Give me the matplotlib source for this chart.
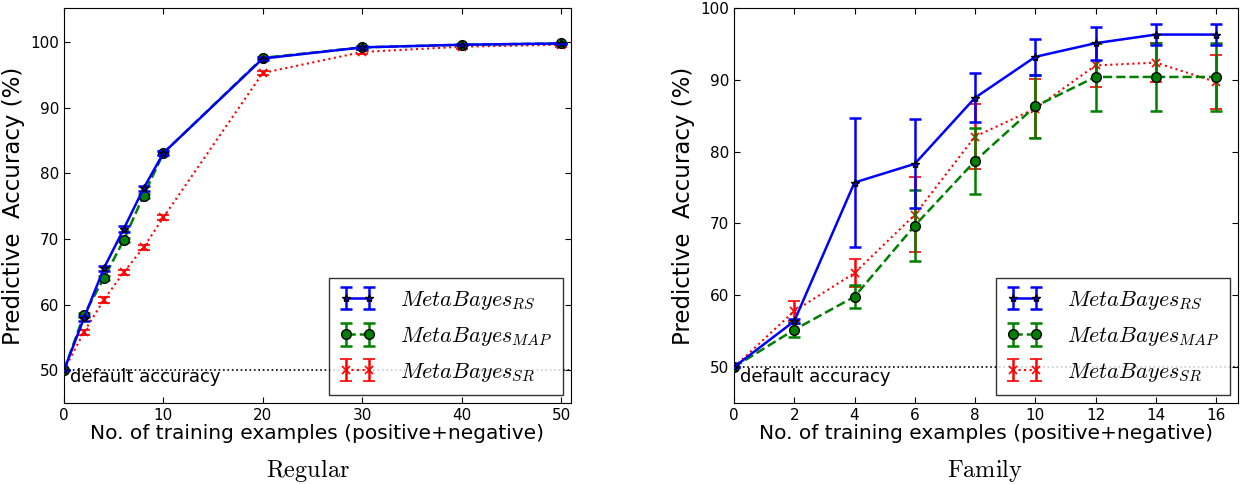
import matplotlib
matplotlib.use("Agg")
import matplotlib.pyplot as plt
import numpy as np

plt.rcParams['mathtext.fontset'] = 'cm'
plt.rcParams['font.family'] = ['DejaVu Sans']

# Regular panel
reg_x = [0, 2, 4, 6, 8, 10, 20, 30, 40, 50]
reg_rs = [50.0, 57.9, 65.5, 71.5, 77.7, 83.1, 97.5, 99.2, 99.6, 99.8]
reg_rs_err = [0.0, 0.4, 0.4, 0.4, 0.4, 0.3, 0.2, 0.2, 0.1, 0.1]
reg_map = [50.0, 58.4, 64.0, 69.8, 76.6, 83.1, 97.6, 99.2, 99.6, 99.8]
reg_map_err = [0.0, 0.3, 0.3, 0.3, 0.3, 0.3, 0.2, 0.2, 0.1, 0.1]
reg_sr = [50.0, 55.8, 60.7, 64.9, 68.7, 73.3, 95.3, 98.5, 99.3, 99.6]
reg_sr_err = [0.0, 0.4, 0.4, 0.4, 0.4, 0.4, 0.3, 0.3, 0.3, 0.3]

# Family panel
fam_x = [0, 2, 4, 6, 8, 10, 12, 14, 16]
fam_rs = [50.0, 56.4, 75.7, 78.3, 87.5, 93.2, 95.1, 96.3, 96.3]
fam_rs_err = [0.0, 0.3, 9.0, 6.2, 3.4, 2.5, 2.3, 1.5, 1.5]
fam_map = [50.0, 55.2, 59.8, 69.7, 78.7, 86.3, 90.4, 90.4, 90.4]
fam_map_err = [0.0, 1.0, 1.6, 4.9, 4.6, 4.4, 4.7, 4.7, 4.7]
fam_sr = [50.0, 57.8, 63.1, 71.2, 82.1, 86.0, 92.0, 92.4, 89.7]
fam_sr_err = [0.0, 1.4, 2.0, 5.2, 4.5, 4.1, 3.0, 2.7, 3.8]

labels = [r'$MetaBayes_{RS}$', r'$MetaBayes_{MAP}$', r'$MetaBayes_{SR}$']
xlabel = 'No. of training examples (positive+negative)'
ylabel = 'Predictive  Accuracy (%)'

fig = plt.figure(figsize=(12.41, 4.84), dpi=100)
W, H = 1241, 484
ax1 = fig.add_axes([64 / W, 1 - 403 / H, (571 - 64) / W, (403 - 8) / H])
ax2 = fig.add_axes([734 / W, 1 - 403 / H, (1238 - 734) / W, (403 - 8) / H])


def draw(ax, x, rs, rse, mp, mpe, sr, sre, xlim, ylim, xticks, caption, cap_x):
    ax.axhline(50, color='black', linestyle=':', linewidth=1.2, zorder=1)
    ax.errorbar(x, rs, yerr=rse, color='blue', linestyle='-', linewidth=1.8,
                marker='*', markersize=6, markerfacecolor='blue', markeredgecolor='black',
                ecolor='blue', elinewidth=1.8, capsize=4, capthick=1.8, label=labels[0], zorder=4)
    ax.errorbar(x, mp, yerr=mpe, color='green', linestyle='--', linewidth=1.8,
                marker='o', markersize=7, markerfacecolor='green', markeredgecolor='black',
                ecolor='green', elinewidth=1.8, capsize=4, capthick=1.8, label=labels[1], zorder=3)
    ax.errorbar(x, sr, yerr=sre, color='red', linestyle=':', linewidth=1.5,
                marker='x', markersize=6, markeredgecolor='red', markeredgewidth=1.2,
                ecolor='red', elinewidth=1.8, capsize=4, capthick=1.8, label=labels[2], zorder=2)
    ax.set_xlim(*xlim)
    ax.set_ylim(*ylim)
    ax.set_xticks(xticks)
    ax.set_yticks([50, 60, 70, 80, 90, 100])
    ax.tick_params(direction='in', top=True, right=True, labelsize=11, length=4)
    ax.set_xlabel(xlabel, fontsize=14.5, labelpad=1)
    ax.set_ylabel(ylabel, fontsize=16.5, labelpad=4)
    ax.text(0.012, 0.088, 'default accuracy', transform=ax.transAxes, fontsize=13,
            ha='left', va='top')
    leg = ax.legend(loc='lower right', fontsize=16, numpoints=2, fancybox=False,
                    borderaxespad=0.35, handlelength=1.6, labelspacing=0.6,
                    borderpad=0.5, handletextpad=1.1)
    leg.get_frame().set_edgecolor('black')
    leg.get_frame().set_linewidth(1.0)
    fig.text(cap_x / W, 1 - 471 / H, r'$\mathrm{' + caption + '}$', fontsize=17.5,
             ha='center', va='center')


draw(ax1, reg_x, reg_rs, reg_rs_err, reg_map, reg_map_err, reg_sr, reg_sr_err,
     (0, 51), (45, 105.2), [0, 10, 20, 30, 40, 50], 'Regular', 308)
draw(ax2, fam_x, fam_rs, fam_rs_err, fam_map, fam_map_err, fam_sr, fam_sr_err,
     (0, 16.73), (45, 100), [0, 2, 4, 6, 8, 10, 12, 14, 16], 'Family', 985)

fig.savefig('out.png', dpi=100)
